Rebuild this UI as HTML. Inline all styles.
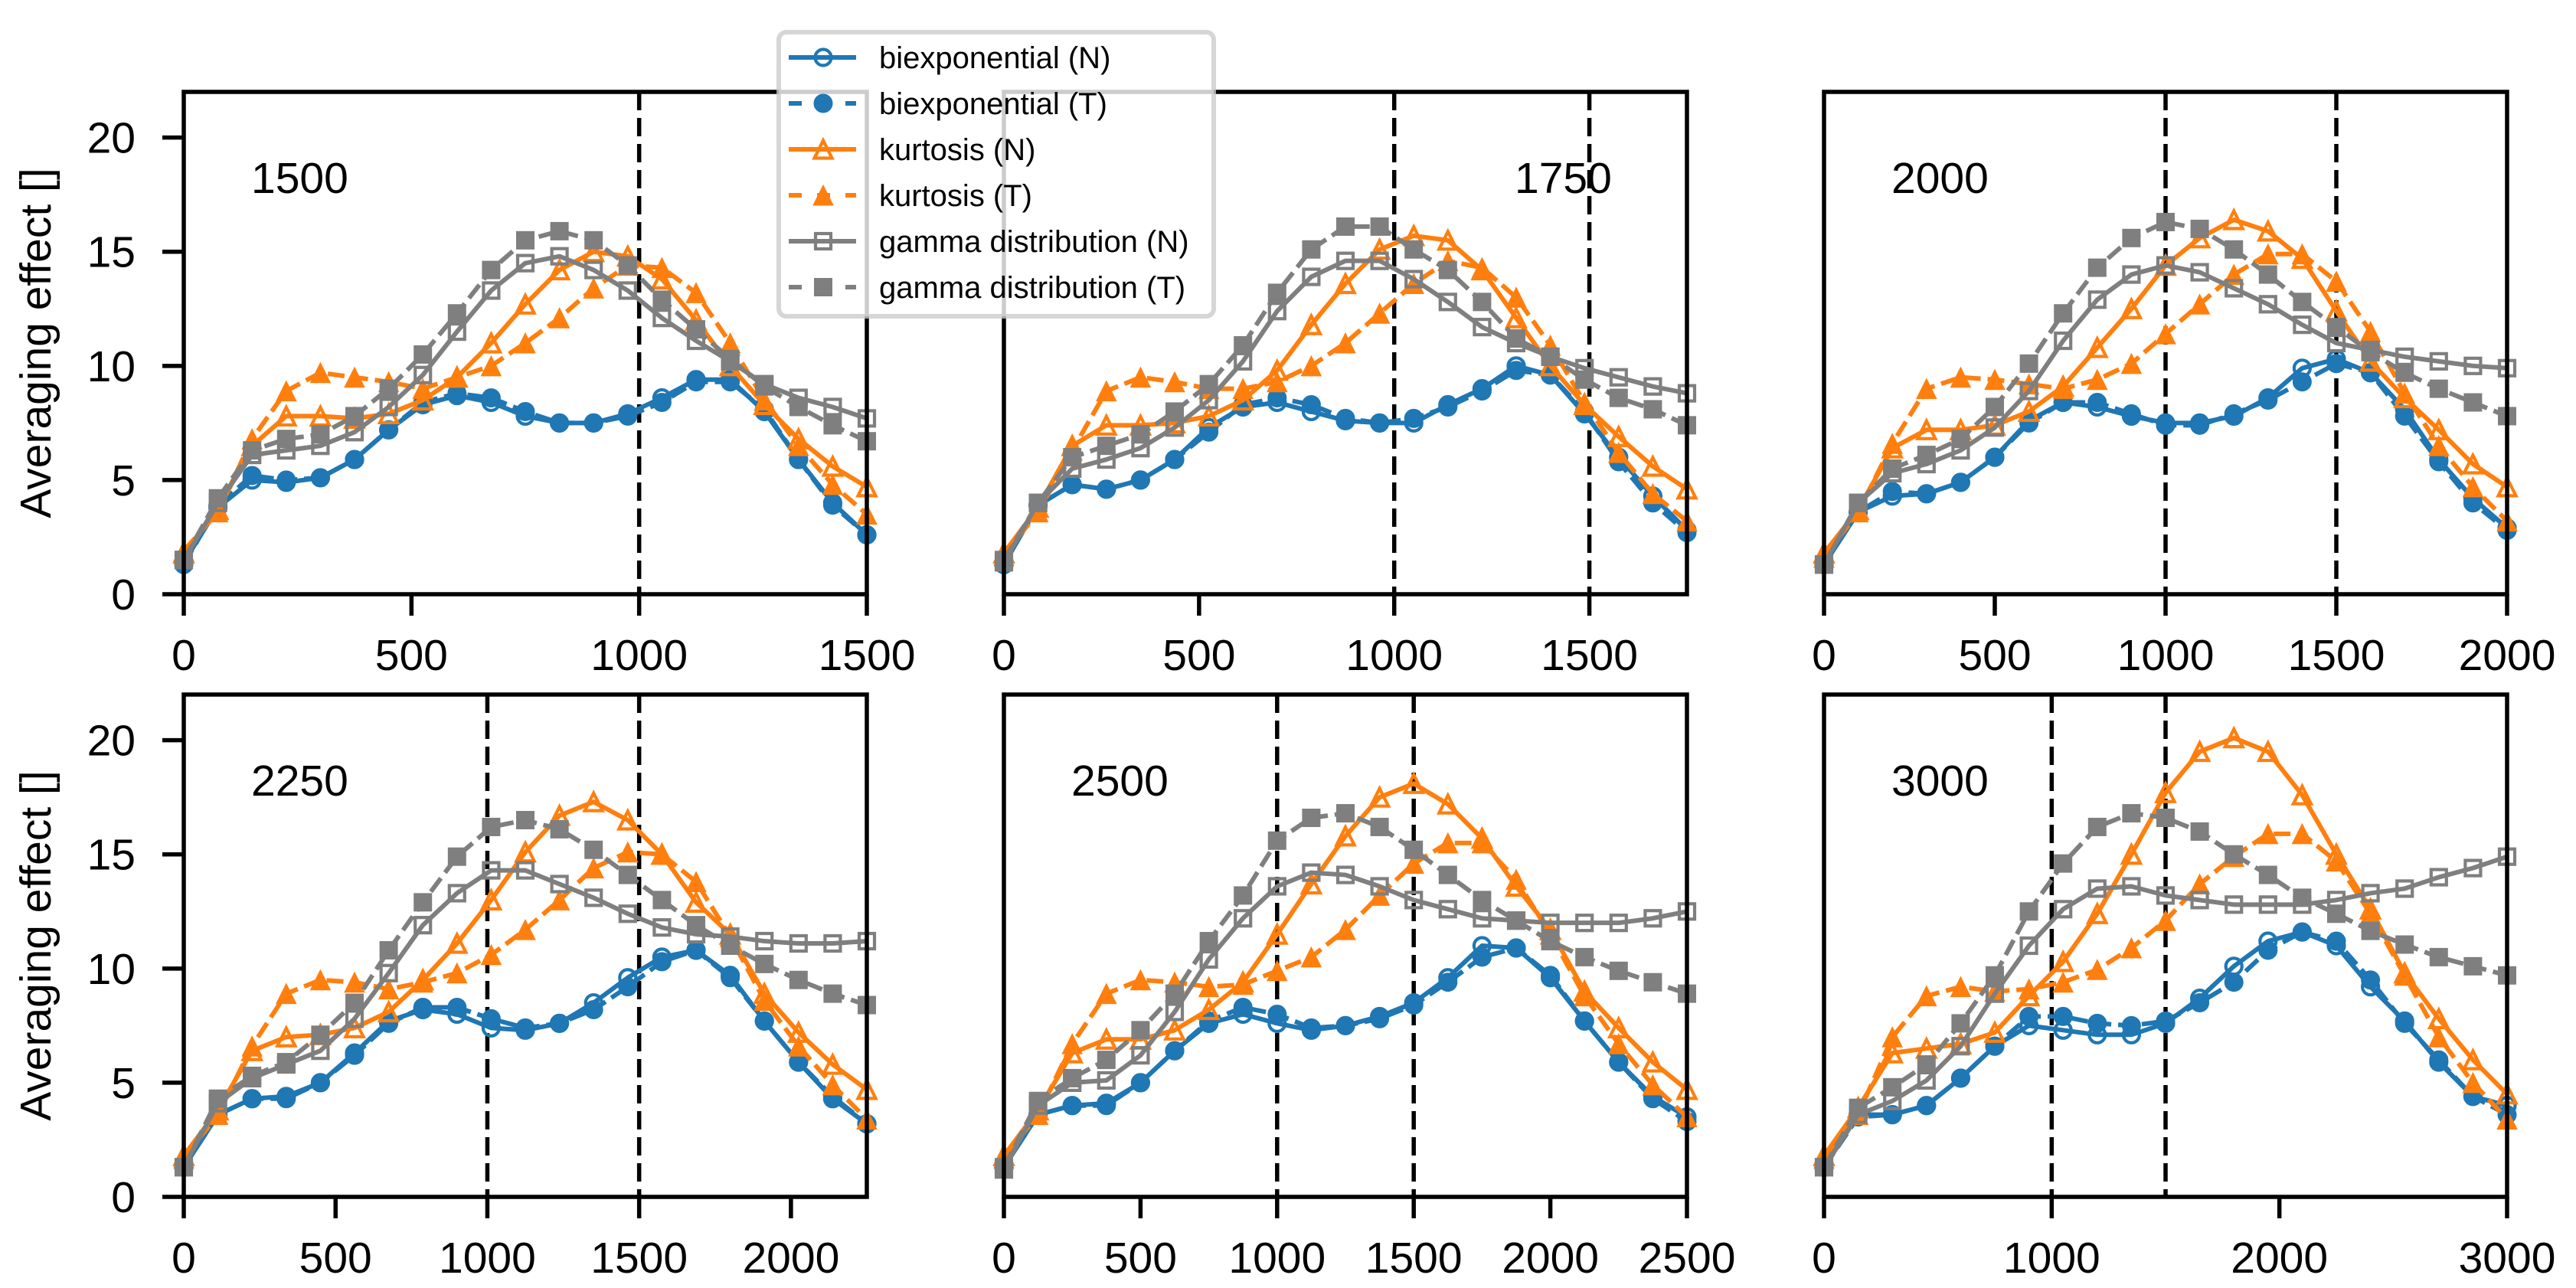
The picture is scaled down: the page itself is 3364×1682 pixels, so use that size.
<!DOCTYPE html>
<html><head><meta charset="utf-8"><style>
html,body{margin:0;padding:0;background:#fff;}
svg{display:block;font-family:"Liberation Sans",Arial,sans-serif;}
</style></head><body>
<svg id="fig" width="3364" height="1682" viewBox="0 0 3364 1682" xmlns="http://www.w3.org/2000/svg"></svg>
<script>
const panelMax = [1500, 1750, 2000, 2250, 2500, 3000];
const panelLabels = ["1500", "1750", "2000", "2250", "2500", "3000"];
const xTicks = [[0,500,1000,1500],[0,500,1000,1500],[0,500,1000,1500,2000],[0,500,1000,1500,2000],[0,500,1000,1500,2000,2500],[0,1000,2000,3000]];
const yTicks = [0, 5, 10, 15, 20];
const vLines = [[1000],[1000,1500],[1000,1500],[1000,1500],[1000,1500],[1000,1500]];

const bieN_1500 = [1.4,3.8,5.0,4.9,5.1,5.9,7.2,8.3,8.7,8.4,7.8,7.5,7.5,7.9,8.6,9.4,9.4,8.0,5.9,4.0,2.6];
const bieT_1500 = [1.3,3.9,5.2,5.0,5.1,5.9,7.2,8.4,8.8,8.6,8.0,7.5,7.5,7.8,8.4,9.3,9.3,8.1,5.9,3.9,2.6];
const kurN_1500 = [1.8,3.7,6.5,7.8,7.8,7.7,7.9,8.5,9.5,11.0,12.7,14.2,15.0,14.8,13.8,12.0,10.0,8.3,6.8,5.6,4.7];
const kurT_1500 = [1.9,3.6,6.8,8.9,9.7,9.5,9.3,9.0,9.5,10.0,11.0,12.1,13.4,14.4,14.3,13.2,11.0,8.5,6.5,4.8,3.5];
const gamN_1500 = [1.5,4.0,6.1,6.3,6.5,7.1,8.2,9.6,11.5,13.3,14.5,14.8,14.2,13.3,12.1,11.1,10.2,9.2,8.6,8.2,7.7];
const gamT_1500 = [1.5,4.2,6.3,6.8,7.0,7.8,9.0,10.5,12.3,14.2,15.5,15.9,15.5,14.4,12.9,11.6,10.3,9.1,8.2,7.4,6.7];

const bieN_1750 = [1.3,3.9,4.8,4.6,5.0,5.9,7.3,8.2,8.4,8.0,7.6,7.5,7.5,8.3,9.0,10.0,9.6,7.9,6.0,4.3,2.8];
const bieT_1750 = [1.3,3.9,4.8,4.6,5.0,5.9,7.1,8.3,8.6,8.3,7.7,7.5,7.7,8.2,8.9,9.8,9.6,8.0,5.8,4.0,2.7];
const kurN_1750 = [1.8,3.8,6.5,7.4,7.4,7.5,7.8,8.5,9.8,11.8,13.6,15.1,15.7,15.5,14.2,12.1,10.0,8.3,6.9,5.6,4.6];
const kurT_1750 = [1.7,3.6,6.3,8.9,9.5,9.3,9.0,9.0,9.3,10.0,11.0,12.3,13.6,14.6,14.3,13.0,10.9,8.4,6.2,4.4,3.2];
const gamN_1750 = [1.4,4.0,5.5,5.9,6.4,7.3,8.5,10.2,12.4,13.9,14.6,14.6,13.8,12.8,11.7,11.0,10.4,9.9,9.5,9.1,8.8];
const gamT_1750 = [1.5,4.0,6.0,6.5,7.0,8.0,9.2,10.9,13.2,15.1,16.1,16.1,15.1,14.2,12.8,11.2,10.4,9.4,8.6,8.1,7.4];

const bieN_2000 = [1.3,3.6,4.3,4.4,4.9,6.0,7.6,8.4,8.2,7.8,7.5,7.5,7.8,8.6,9.9,10.3,9.7,8.1,5.9,4.2,2.9];
const bieT_2000 = [1.3,3.6,4.5,4.4,4.9,6.0,7.5,8.4,8.4,7.9,7.4,7.4,7.9,8.5,9.3,10.1,9.7,7.8,5.8,4.0,2.8];
const kurN_2000 = [1.8,3.7,6.4,7.2,7.2,7.4,8.0,9.1,10.8,12.5,14.4,15.6,16.4,15.9,14.7,12.4,10.2,8.6,7.2,5.7,4.7];
const kurT_2000 = [1.6,3.6,6.6,9.0,9.5,9.4,9.2,9.0,9.4,10.1,11.4,12.7,14.0,14.9,14.9,13.7,11.5,8.8,6.5,4.7,3.2];
const gamN_2000 = [1.3,4.0,5.3,5.7,6.3,7.3,8.9,11.1,12.9,14.0,14.4,14.1,13.4,12.7,11.8,11.0,10.7,10.4,10.2,10.0,9.9];
const gamT_2000 = [1.3,4.0,5.5,6.1,6.8,8.2,10.1,12.3,14.3,15.6,16.3,16.0,15.1,14.0,12.8,11.7,10.6,9.7,9.0,8.4,7.8];

const bieN_2250 = [1.3,3.6,4.3,4.4,5.0,6.3,7.7,8.2,8.0,7.4,7.3,7.6,8.5,9.6,10.5,10.8,9.7,7.7,5.9,4.3,3.2];
const bieT_2250 = [1.3,3.6,4.3,4.3,5.0,6.2,7.6,8.3,8.3,7.8,7.4,7.6,8.2,9.2,10.3,10.8,9.6,7.7,5.9,4.4,3.2];
const kurN_2250 = [1.8,3.8,6.4,7.0,7.1,7.4,8.1,9.5,11.1,13.0,15.1,16.7,17.3,16.5,15.0,12.9,11.5,8.9,7.2,5.8,4.7];
const kurT_2250 = [1.7,3.6,6.6,8.9,9.5,9.4,9.1,9.4,9.8,10.6,11.7,13.0,14.4,15.1,15.0,13.8,11.4,8.6,6.6,4.9,3.4];
const gamN_2250 = [1.3,4.1,5.2,5.8,6.4,7.8,9.8,11.9,13.3,14.3,14.3,13.7,13.1,12.4,11.8,11.5,11.4,11.2,11.1,11.1,11.2];
const gamT_2250 = [1.3,4.3,5.3,5.9,7.1,8.5,10.8,12.9,14.9,16.2,16.5,16.1,15.2,14.1,13.0,11.9,11.0,10.2,9.5,8.9,8.4];

const bieN_2500 = [1.3,3.6,4.0,4.1,5.0,6.4,7.6,8.0,7.6,7.3,7.5,7.9,8.5,9.6,11.0,10.9,9.6,7.7,5.9,4.4,3.5];
const bieT_2500 = [1.3,3.6,4.0,4.0,5.0,6.4,7.7,8.3,8.0,7.4,7.5,7.8,8.4,9.4,10.5,10.9,9.7,7.7,5.9,4.3,3.3];
const kurN_2500 = [1.8,3.8,6.3,6.9,6.9,7.3,8.2,9.4,11.5,13.7,15.8,17.5,18.1,17.2,15.7,13.6,11.7,9.0,7.4,5.9,4.7];
const kurT_2500 = [1.7,3.6,6.7,8.9,9.5,9.4,9.2,9.3,9.9,10.5,11.7,13.2,14.6,15.5,15.5,13.9,11.5,8.8,6.7,4.9,3.5];
const gamN_2500 = [1.2,4.0,5.0,5.1,6.2,8.1,10.4,12.2,13.6,14.2,14.1,13.6,13.0,12.6,12.2,12.1,12.0,12.0,12.0,12.2,12.5];
const gamT_2500 = [1.3,4.2,5.2,6.0,7.3,8.9,11.2,13.2,15.6,16.6,16.8,16.2,15.2,14.1,13.0,12.1,11.2,10.5,9.9,9.4,8.9];

const bieN_3000 = [1.3,3.6,3.6,4.0,5.2,6.6,7.5,7.3,7.1,7.1,7.6,8.7,10.1,11.2,11.6,11.0,9.2,7.7,5.9,4.4,4.0];
const bieT_3000 = [1.3,3.5,3.6,4.0,5.2,6.6,7.9,7.9,7.6,7.5,7.7,8.5,9.4,10.8,11.6,11.2,9.5,7.6,6.0,4.4,3.6];
const kurN_3000 = [1.8,3.9,6.3,6.5,6.7,7.2,8.8,10.3,12.4,15.0,17.7,19.5,20.1,19.5,17.6,15.0,12.6,9.8,7.8,6.0,4.5];
const kurT_3000 = [1.7,3.6,7.0,8.8,9.2,9.0,9.1,9.4,9.95,10.9,12.1,13.7,14.9,15.9,15.9,14.7,12.4,9.7,7.0,5.0,3.4];
const gamN_3000 = [1.3,3.6,4.2,5.1,6.6,8.9,11.0,12.6,13.5,13.6,13.2,13.0,12.8,12.8,12.8,13.0,13.3,13.5,14.0,14.4,14.9];
const gamT_3000 = [1.3,3.9,4.8,5.8,7.6,9.7,12.5,14.6,16.2,16.8,16.6,16.0,15.0,14.1,13.1,12.4,11.65,11.05,10.5,10.1,9.7];

const panelSeries = [
  [bieN_1500,bieT_1500,kurN_1500,kurT_1500,gamN_1500,gamT_1500],
  [bieN_1750,bieT_1750,kurN_1750,kurT_1750,gamN_1750,gamT_1750],
  [bieN_2000,bieT_2000,kurN_2000,kurT_2000,gamN_2000,gamT_2000],
  [bieN_2250,bieT_2250,kurN_2250,kurT_2250,gamN_2250,gamT_2250],
  [bieN_2500,bieT_2500,kurN_2500,kurT_2500,gamN_2500,gamT_2500],
  [bieN_3000,bieT_3000,kurN_3000,kurT_3000,gamN_3000,gamT_3000]
];
const seriesNames = ["biexponential (N)","biexponential (T)","kurtosis (N)","kurtosis (T)","gamma distribution (N)","gamma distribution (T)"];
const seriesKeys = ["biexponential-n","biexponential-t","kurtosis-n","kurtosis-t","gamma-n","gamma-t"];
const seriesColors = ["#1f77b4","#1f77b4","#ff7f0e","#ff7f0e","#7f7f7f","#7f7f7f"];
const seriesMarkers = ["circle","circle","triangle","triangle","square","square"];
const seriesFilled = [false,true,false,true,false,true];

const NS = "http://www.w3.org/2000/svg";
const svg = document.getElementById("fig");
const colLeft = [240, 1311, 2382], rowTop = [120, 907];
const PW = 892, PH = 656, YMAX = 22;
const LW = 6;

function mk(tag, attrs, parent) {
  const e = document.createElementNS(NS, tag);
  for (const k in attrs) e.setAttribute(k, attrs[k]);
  (parent || svg).appendChild(e);
  return e;
}

function markerEl(g, type, cx, cy, color, filled) {
  let el;
  const fill = filled ? color : "none";
  if (type === "circle") {
    el = mk("circle", {cx: cx, cy: cy, r: filled ? 12 : 10.5, fill: fill, stroke: color, "stroke-width": filled ? 1 : 4.2}, g);
  } else if (type === "square") {
    const s = filled ? 23 : 20;
    el = mk("rect", {x: cx - s/2, y: cy - s/2, width: s, height: s, fill: fill, stroke: color, "stroke-width": filled ? 1 : 4.2}, g);
  } else {
    const h = filled ? 13 : 11.5;
    el = mk("polygon", {points: `${cx},${cy-h} ${cx-h},${cy+h} ${cx+h},${cy+h}`, fill: fill, stroke: color, "stroke-width": filled ? 1 : 4.2, "stroke-linejoin": "miter"}, g);
  }
  return el;
}

panelMax.forEach((xmax, p) => {
  const L = colLeft[p % 3], T = rowTop[Math.floor(p / 3)], B = T + PH;
  const xs = v => L + v / xmax * PW;
  const ys = v => B - v / YMAX * PH;
  const g = mk("g", {});
  
  

  vLines[p].forEach(v => {
    const ln = mk("line", {x1: xs(v), x2: xs(v), y1: T, y2: B, stroke: "#000", "stroke-width": 5.5, "stroke-dasharray": "24 10"}, g);
    
    
  });

  panelSeries[p].forEach((vals, s) => {
    const sg = mk("g", {}, g);
    
    
    const pts = vals.map((v, i) => xs(i * xmax / (vals.length - 1)) + "," + ys(v)).join(" ");
    const attrs = {points: pts, fill: "none", stroke: seriesColors[s], "stroke-width": LW, "stroke-linejoin": "round"};
    if (seriesFilled[s]) attrs["stroke-dasharray"] = "22 9";
    const pl = mk("polyline", attrs, sg);
    
    
    vals.forEach((v, i) => {
      const m = markerEl(sg, seriesMarkers[s], xs(i * xmax / (vals.length - 1)), ys(v), seriesColors[s], seriesFilled[s]);
      
      
    });
  });

  const fr = mk("rect", {x: L, y: T, width: PW, height: PH, fill: "none", stroke: "#000", "stroke-width": 5.5}, g);
  
  

  xTicks[p].forEach(v => {
    const tk = mk("line", {x1: xs(v), x2: xs(v), y1: B, y2: B + 28, stroke: "#000", "stroke-width": 5.5}, g);
    
    
    const tx = mk("text", {x: xs(v), y: B + 99, "font-size": 57, "text-anchor": "middle", fill: "#000"}, g);
    tx.textContent = v;
    
    
  });

  if (p % 3 === 0) {
    yTicks.forEach(v => {
      const tk = mk("line", {x1: L - 28, x2: L, y1: ys(v), y2: ys(v), stroke: "#000", "stroke-width": 5.5}, g);
      
      
      const tx = mk("text", {x: L - 63, y: ys(v) + 20, "font-size": 57, "text-anchor": "end", fill: "#000"}, g);
      tx.textContent = v;
      
      
    });
    const yl = mk("text", {x: 0, y: 0, "font-size": 57, "text-anchor": "middle", fill: "#000", transform: `translate(66,${(T + B) / 2}) rotate(-90)`}, g);
    yl.textContent = "Averaging effect []";
    
    
  }

  const lblX = p === 1 ? 1978 : L + 88;
  const pl = mk("text", {x: lblX, y: T + 132, "font-size": 57, fill: "#000"}, g);
  pl.textContent = panelLabels[p];
  
  
});

// legend
const lg = mk("g", {});


const lbox = mk("rect", {x: 1017, y: 42, width: 568, height: 371, rx: 10, ry: 10, fill: "rgba(255,255,255,0.8)", stroke: "rgba(204,204,204,0.8)", "stroke-width": 6}, lg);


seriesNames.forEach((name, s) => {
  const y = 75 + s * 60;
  const eg = mk("g", {}, lg);
  
  
  const attrs = {x1: 1030, x2: 1118, y1: y, y2: y, stroke: seriesColors[s], "stroke-width": LW};
  if (seriesFilled[s]) attrs["stroke-dasharray"] = "17 20";
  const ln = mk("line", attrs, eg);
  
  
  const mm = markerEl(eg, seriesMarkers[s], 1075, y, seriesColors[s], seriesFilled[s]);
  
  
  const t = mk("text", {x: 1148, y: y + 14, "font-size": 40, fill: "#000"}, eg);
  t.textContent = name;
  
  
});
</script>
</body></html>
